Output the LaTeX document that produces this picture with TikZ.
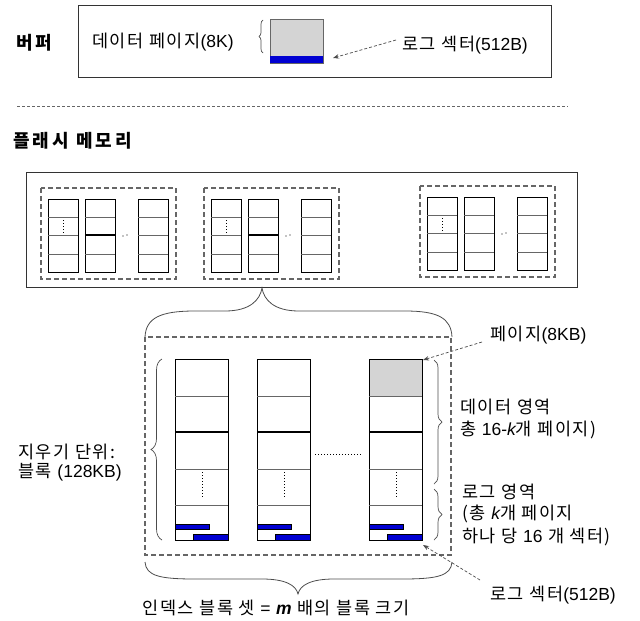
\documentclass[tikz,border=0pt]{standalone}
\usepackage{fontspec}
\setmainfont{Noto Sans CJK KR}
\newfontfamily\krsp[LetterSpace=9]{Noto Sans CJK KR}
\newfontfamily\lat{Liberation Sans}
\newcommand\lt[1]{{\lat #1}}
\usetikzlibrary{decorations.pathreplacing,arrows.meta,calc}
\definecolor{cellgray}{RGB}{212,212,212}
\definecolor{barblue}{RGB}{0,0,210}
\newcommand\fgroup[3]{%
  \draw[grp] (#1,#2) rectangle ++(135,91);
  \foreach \dx in {7,44,97} {
    \draw[cellline] (#1+\dx,#2+11) rectangle ++(30,73);
    \foreach \dy in {18,36,55} \draw[innerline] (#1+\dx,#2+11+\dy) -- ++(30,0);
  }
  \draw[dotted, line width=1pt] (#1+22,#2+11+21) -- (#1+22,#2+11+34);
  \ifx#31\draw[line width=1.3pt] (#1+44,#2+47) -- ++(30,0);\fi
  \fill (#1+82,#2+48) circle (0.7) (#1+86,#2+47) circle (0.7);
}
\newcommand\bigcol[2]{%
  \ifx#21\fill[cellgray] (#1,359) rectangle ++(53,37);\fi
  \draw[cellline] (#1,359) rectangle ++(53,181);
  \draw[innerline] (#1,396) -- ++(53,0) (#1,469) -- ++(53,0) (#1,505) -- ++(53,0);
  \draw[line width=1.2pt] (#1,432) -- ++(53,0);
  \draw[dotted, line width=1pt] (#1+27,472) -- (#1+27,498);
  \draw[fill=barblue, line width=0.5pt] (#1,524) rectangle ++(34,5);
  \draw[fill=barblue, line width=0.5pt] (#1+18,534) rectangle ++(35,6);
}
\begin{document}
\begin{tikzpicture}[x=1pt,y=-1pt,
  frame/.style={draw=black!80, line width=1pt},
  grp/.style={draw=black!60, dash pattern=on 5pt off 3pt, line width=1.1pt},
  cellline/.style={draw=black, line width=0.8pt},
  innerline/.style={draw=black!60, line width=0.7pt},
  lbl/.style={font=\krsp\fontsize{17.5}{20}\selectfont, anchor=west, inner sep=0pt},
  ttl/.style={font=\fontsize{18}{20}\selectfont\bfseries, anchor=west, inner sep=0pt},
  dasharr/.style={draw=black!70, dash pattern=on 3pt off 2pt, line width=0.7pt, -{Stealth[length=6pt,width=4.5pt]}},
  brc/.style={decorate, decoration={brace, amplitude=#1}, draw=black!70, line width=0.7pt},
  bigbrace/.style={draw=black!70, line width=0.8pt}]
\useasboundingbox (0,0) rectangle (640,621);

% ---- buffer ----
\node[ttl] (buf) at (16,43) {버\,퍼};
\draw[frame] (78,5) rectangle (551,77);
\node[lbl] (dpage) at (92,42) {데이터 페이지\lt{(8K)}};
\draw[brc=4] (263,53) -- (263,20);
\draw[draw=black!60, fill=cellgray] (270,19) rectangle (323,63);
\fill[barblue] (270,56) rectangle (323,63);
\coordinate (bufblue) at (333,58);
\node[lbl] (bufsec) at (402,45) {로그 섹터\lt{(512B)}};
\draw[dasharr] ([xshift=-6pt,yshift=5pt]bufsec.west) -- (bufblue);

% ---- separator ----
\coordinate (sepL) at (17,106);
\coordinate (sepR) at (568,106);
\draw[draw=black!60, dash pattern=on 3pt off 2pt, line width=0.8pt] (sepL) -- (sepR);

% ---- flash ----
\node[ttl] (flash) at (13,141) {플\,래\,시\, 메\,모\,리};
\draw[frame] (26,172) rectangle (577,287);
\fgroup{41}{188}{1}
\fgroup{204}{188}{1}
\fgroup{420}{186}{0}

% ---- top brace ----
\draw[bigbrace] (145,337) .. controls (146,318) and (160,311) .. (195,311) -- (225,311)
  .. controls (250,311) and (260,300) .. (262,288)
  .. controls (264,300) and (274,311) .. (299,311) -- (405,311)
  .. controls (438,311) and (451,318) .. (452,337);

% ---- block set ----
\draw[grp] (145,337) rectangle (451,555);
\bigcol{175}{0}
\bigcol{257}{0}
\bigcol{369}{1}
\draw[dotted, line width=1pt] (315,454) -- (362,454);
\coordinate (c3tr) at (423,360);
\coordinate (c3br) at (423,545);

\draw[brc=11] (162,540) -- (162,359);
\node[lbl] (erase1) at (18,452) {지우기 단위:};
\node[lbl] (erase2) at (18,472) {블록 \lt{(128KB)}};

\draw[brc=8] (434,360) -- (434,484);
\draw[brc=8] (434,489) -- (434,540);

\node[lbl] (pg) at (490,335) {페이지\lt{(8KB)}};
\draw[dasharr] ([xshift=-8pt,yshift=-7pt]pg.west) -- (c3tr);

\node[lbl] (data1) at (460,407) {데이터 영역};
\node[lbl] (data2) at (460,430) {총 \lt{16-{\itshape k}}개 페이지)};
\node[lbl] (log1) at (462,492) {로그 영역};
\node[lbl] (log2) at (462,514) {(총 \lt{\itshape k}개 페이지};
\node[lbl] (log3) at (462,537) {하나 당 \lt{16} 개 섹터)};

\node[lbl] (ls) at (490,595) {로그 섹터\lt{(512B)}};
\draw[dasharr] ([xshift=-10pt,yshift=15pt]ls.west) -- (c3br);

% ---- bottom brace ----
\draw[bigbrace] (145,562) .. controls (146,576) and (160,579) .. (195,579) -- (262,579)
  .. controls (285,579) and (296,585) .. (298,594)
  .. controls (300,585) and (311,579) .. (334,579) -- (402,579)
  .. controls (437,579) and (451,576) .. (452,562);
\node[lbl, anchor=center] (setlbl) at (276,608) {인덱스 블록 셋 \lt{=} \lt{\bfseries\itshape m} 배의 블록 크기};
\end{tikzpicture}
\end{document}
